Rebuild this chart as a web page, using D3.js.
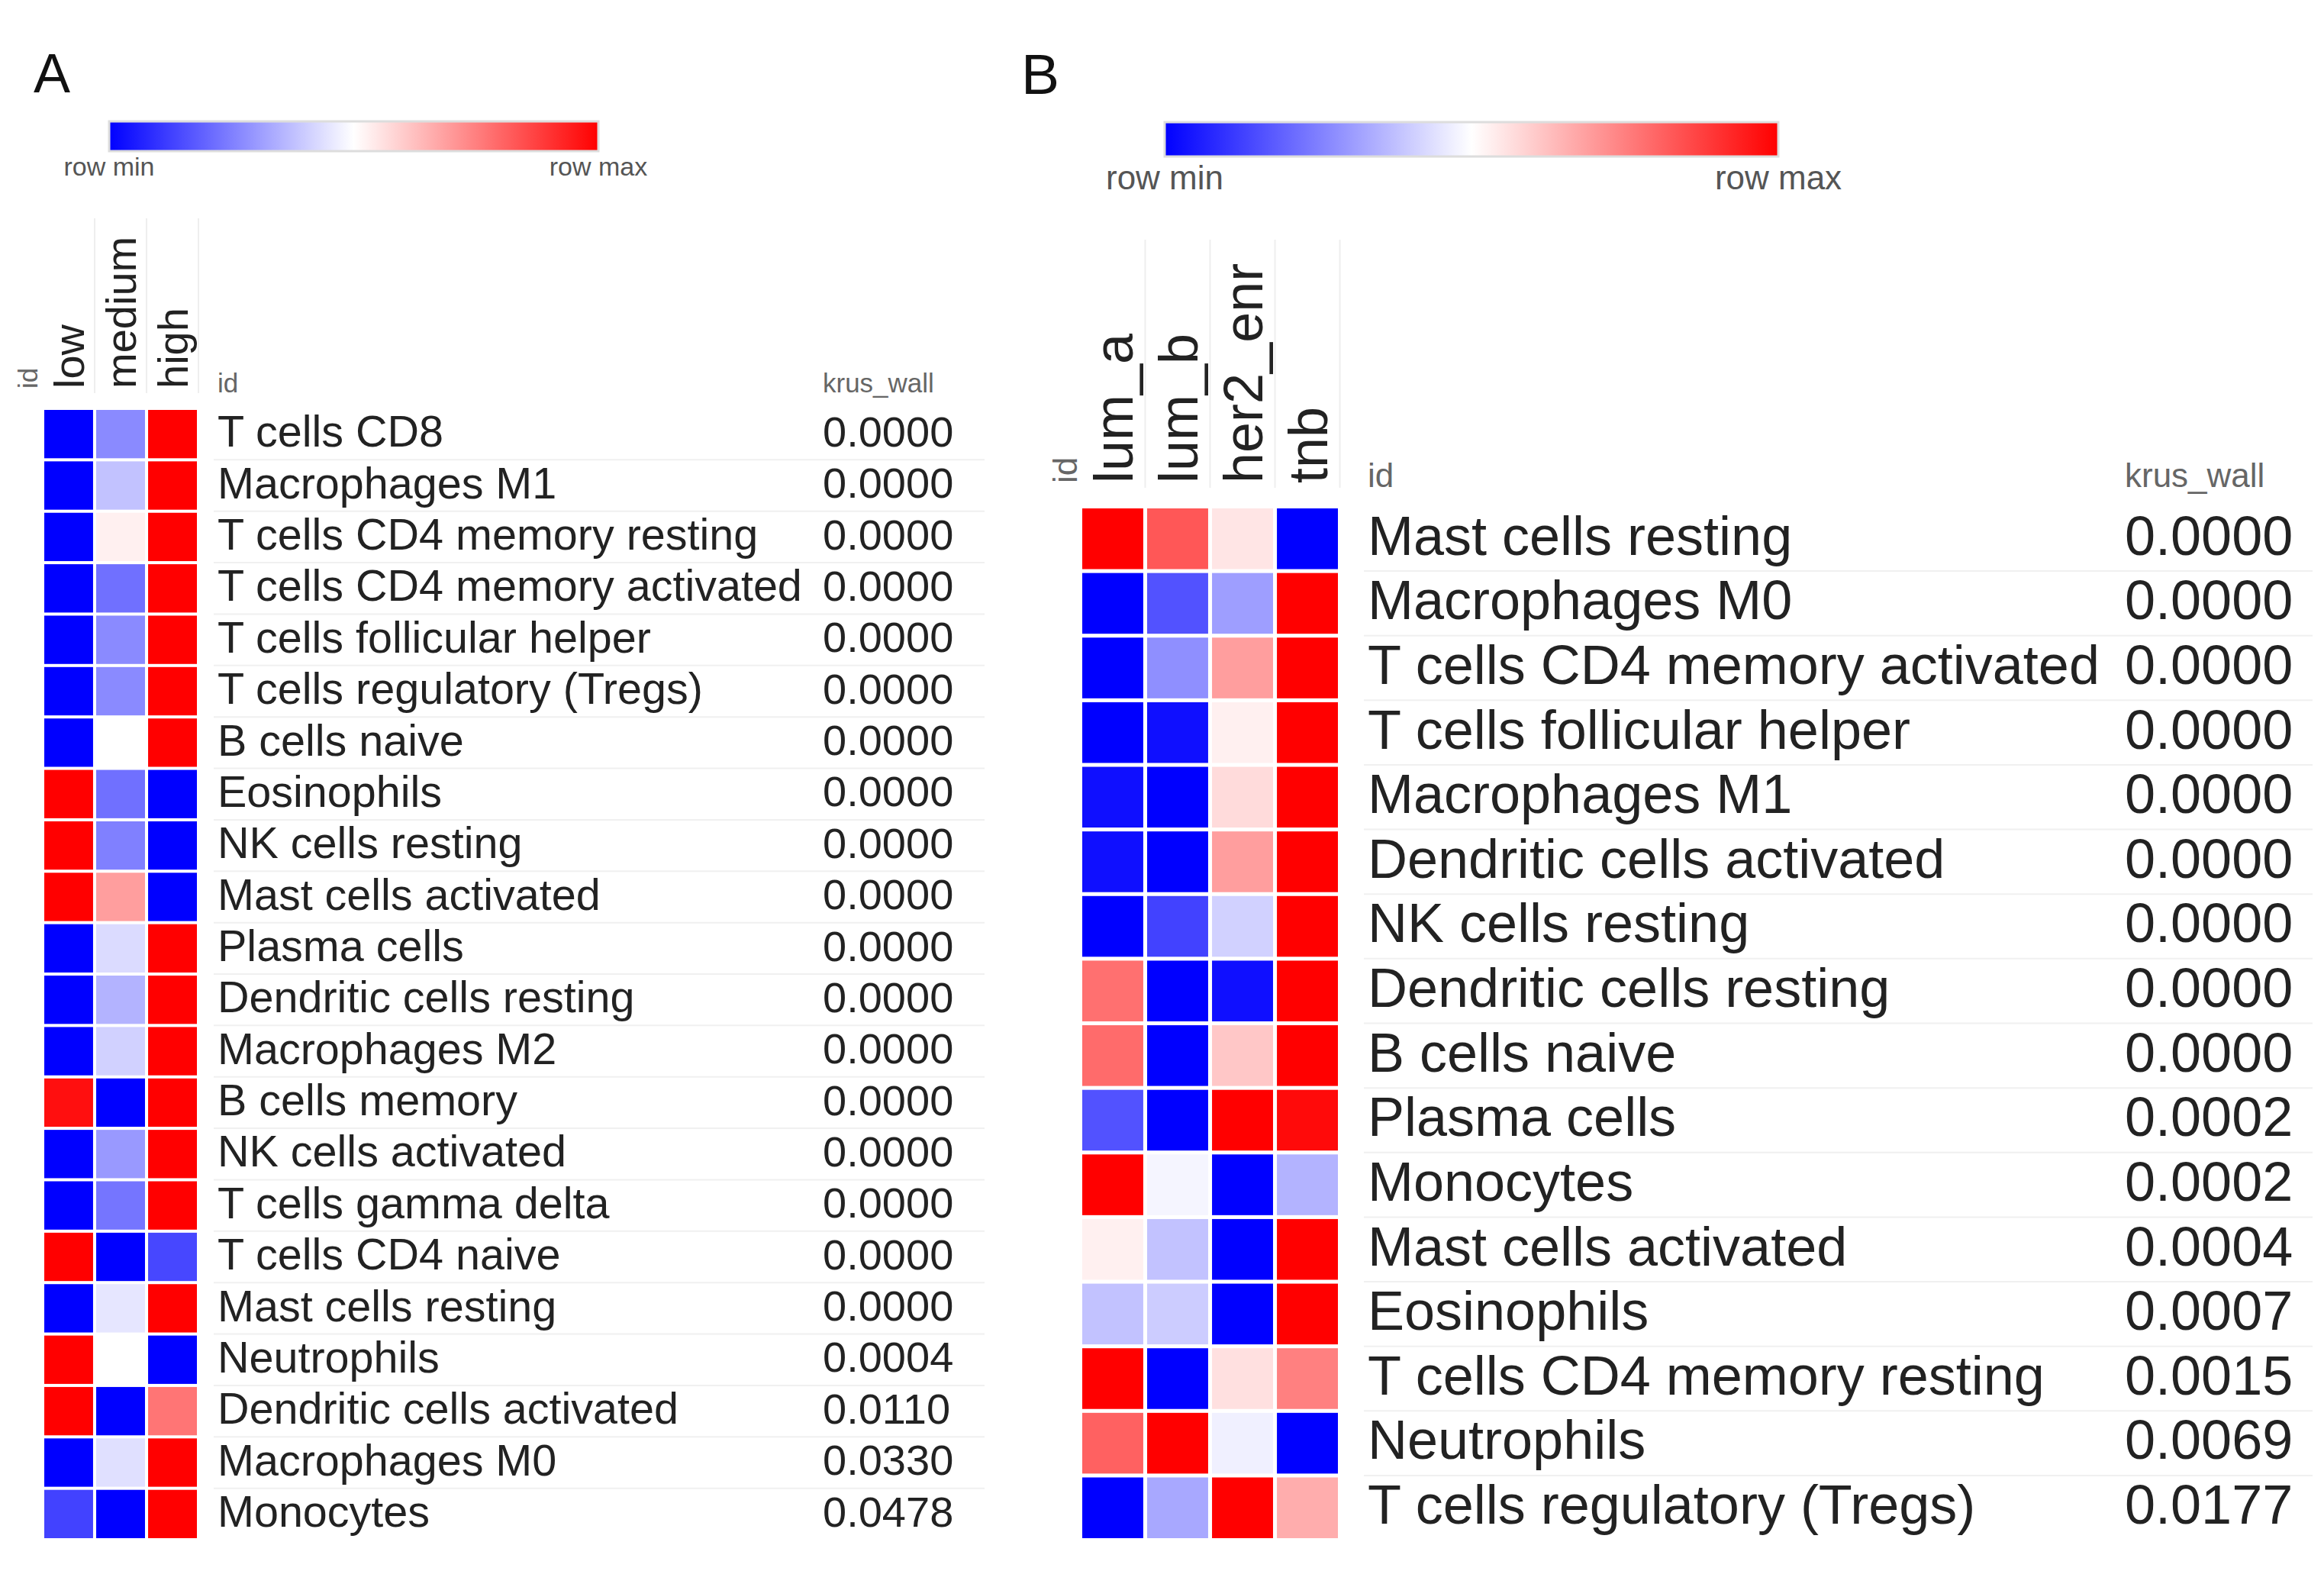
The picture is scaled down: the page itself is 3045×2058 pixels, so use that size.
<!DOCTYPE html>
<html>
<head>
<meta charset="utf-8">
<script src="https://cdn.jsdelivr.net/npm/d3@7"></script>
<style>
  html, body { margin: 0; padding: 0; background: #fff; }
  svg { display: block; }
  text { font-family: "Liberation Sans", Arial, Helvetica, sans-serif; }
</style>
</head>
<body>
<svg id="chart" width="3045" height="2058"></svg>
<script>
// panel A: by immune score group
var colsA = ["low", "medium", "high"];
var rowsA = ["T cells CD8", "Macrophages M1", "T cells CD4 memory resting", "T cells CD4 memory activated",
  "T cells follicular helper", "T cells regulatory (Tregs)", "B cells naive", "Eosinophils", "NK cells resting",
  "Mast cells activated", "Plasma cells", "Dendritic cells resting", "Macrophages M2", "B cells memory",
  "NK cells activated", "T cells gamma delta", "T cells CD4 naive", "Mast cells resting", "Neutrophils",
  "Dendritic cells activated", "Macrophages M0", "Monocytes"];
// row-scaled values, 0 = row min, 1 = row max
var valuesA = [
  [0, 0.27, 1], [0, 0.38, 1], [0, 0.53, 1], [0, 0.22, 1], [0, 0.27, 1], [0, 0.27, 1], [0, 0.5, 1],
  [1, 0.22, 0], [1, 0.25, 0], [1, 0.69, 0], [0, 0.43, 1], [0, 0.35, 1], [0, 0.41, 1], [0.97, 0, 1],
  [0, 0.3, 1], [0, 0.23, 1], [1, 0, 0.14], [0, 0.45, 1], [1, 0.5, 0], [1, 0, 0.77], [0, 0.44, 1],
  [0.13, 0, 1]
];
var pvalA = ["0.0000", "0.0000", "0.0000", "0.0000", "0.0000", "0.0000", "0.0000", "0.0000", "0.0000",
  "0.0000", "0.0000", "0.0000", "0.0000", "0.0000", "0.0000", "0.0000", "0.0000", "0.0000", "0.0004",
  "0.0110", "0.0330", "0.0478"];

// panel B: by PAM50 subtype
var colsB = ["lum_a", "lum_b", "her2_enr", "tnb"];
var rowsB = ["Mast cells resting", "Macrophages M0", "T cells CD4 memory activated", "T cells follicular helper",
  "Macrophages M1", "Dendritic cells activated", "NK cells resting", "Dendritic cells resting", "B cells naive",
  "Plasma cells", "Monocytes", "Mast cells activated", "Eosinophils", "T cells CD4 memory resting",
  "Neutrophils", "T cells regulatory (Tregs)"];
var valuesB = [
  [1, 0.83, 0.55, 0], [0, 0.16, 0.31, 1], [0, 0.28, 0.69, 1], [0, 0.03, 0.53, 1],
  [0.03, 0, 0.57, 1], [0.03, 0, 0.69, 1], [0, 0.13, 0.41, 1], [0.78, 0, 0.03, 1],
  [0.79, 0, 0.61, 1], [0.16, 0, 1, 0.98], [1, 0.48, 0, 0.35], [0.53, 0.38, 0, 1],
  [0.38, 0.4, 0, 1], [1, 0, 0.56, 0.75], [0.81, 1, 0.47, 0], [0, 0.33, 1, 0.66]
];
var pvalB = ["0.0000", "0.0000", "0.0000", "0.0000", "0.0000", "0.0000", "0.0000", "0.0000", "0.0000",
  "0.0002", "0.0002", "0.0004", "0.0007", "0.0015", "0.0069", "0.0177"];

var svg = d3.select("#chart");
var color = d3.scaleLinear().domain([0, 0.5, 1]).range(["#0000ff", "#ffffff", "#ff0000"]);

var defs = svg.append("defs");
var grad = defs.append("linearGradient").attr("id", "rowgrad");
grad.selectAll("stop").data([0, 0.5, 1]).enter().append("stop")
  .attr("offset", function(d) { return d * 100 + "%"; })
  .attr("stop-color", function(d) { return color(d); });

function panel(o) {
  var g = svg.append("g");

  g.append("text").attr("x", o.letterX).attr("y", o.letterY)
    .attr("font-size", o.letterSize).attr("fill", "#111").text(o.letter);

  // colour key
  g.append("rect").attr("x", o.bar[0]).attr("y", o.bar[2])
    .attr("width", o.bar[1] - o.bar[0]).attr("height", o.bar[3])
    .attr("fill", "url(#rowgrad)").attr("stroke", "#ddd").attr("stroke-width", 3);
  g.selectAll(".keylab").data([["row min", o.bar[0]], ["row max", o.bar[1]]]).enter().append("text")
    .attr("x", function(d) { return d[1]; }).attr("y", o.keyY)
    .attr("text-anchor", "middle").attr("font-size", o.keySize).attr("fill", "#555")
    .text(function(d) { return d[0]; });

  var x = d3.scaleBand().domain(o.cols).range(o.xr).paddingInner(o.pad);
  var y = d3.scaleBand().domain(o.rows).range(o.yr).paddingInner(o.pad);

  // header separators
  g.selectAll(".sep").data(o.cols).enter().append("line")
    .attr("x1", function(d) { return x(d) + x.bandwidth() + x.step() * o.pad / 2; })
    .attr("x2", function(d) { return x(d) + x.bandwidth() + x.step() * o.pad / 2; })
    .attr("y1", o.sepTop).attr("y2", o.headY + 6)
    .attr("stroke", "#eeeeee").attr("stroke-width", 2);

  g.selectAll(".colhead").data(o.cols).enter().append("text")
    .attr("transform", function(d) {
      return "translate(" + (x(d) + x.bandwidth() / 2) + "," + o.headY + ") rotate(-90)";
    })
    .attr("dy", "0.36em").attr("font-size", o.headSize).attr("fill", "#222")
    .text(function(d) { return d; });

  g.append("text")
    .attr("transform", "translate(" + o.idLeftX + "," + o.headY + ") rotate(-90)")
    .attr("dy", "0.36em").attr("font-size", o.smallSize).attr("fill", "#666").text("id");
  g.append("text").attr("x", o.labX).attr("y", o.headY + 5)
    .attr("font-size", o.smallSize).attr("fill", "#666").text("id");
  g.append("text").attr("x", o.valX).attr("y", o.headY + 5)
    .attr("font-size", o.smallSize).attr("fill", "#666").text("krus_wall");

  // faint row rules in the text columns
  g.selectAll(".rule").data(o.rows.slice(0, -1)).enter().append("line")
    .attr("x1", o.labX - 5).attr("x2", o.ruleEnd)
    .attr("y1", function(d) { return y(d) + y.bandwidth() + y.step() * o.pad / 2; })
    .attr("y2", function(d) { return y(d) + y.bandwidth() + y.step() * o.pad / 2; })
    .attr("stroke", "#f0f0f0").attr("stroke-width", 2);

  var cells = [];
  o.rows.forEach(function(r, i) {
    o.cols.forEach(function(c, j) { cells.push({row: r, col: c, v: o.values[i][j]}); });
  });
  g.selectAll(".cell").data(cells).enter().append("rect")
    .attr("x", function(d) { return x(d.col); })
    .attr("y", function(d) { return y(d.row); })
    .attr("width", x.bandwidth()).attr("height", y.bandwidth())
    .attr("fill", function(d) { return color(d.v); });

  g.selectAll(".rowlab").data(o.rows).enter().append("text")
    .attr("x", o.labX).attr("y", function(d) { return y(d) + y.bandwidth() / 2; })
    .attr("dy", "0.29em").attr("font-size", o.labSize).attr("fill", "#222")
    .text(function(d) { return d; });

  g.selectAll(".pval").data(o.rows).enter().append("text")
    .attr("x", o.valX).attr("y", function(d) { return y(d) + y.bandwidth() / 2; })
    .attr("dy", "0.29em").attr("font-size", o.valSize).attr("fill", "#222")
    .text(function(d, i) { return o.pvals[i]; });
}

panel({
  letter: "A", letterX: 44, letterY: 121, letterSize: 72,
  bar: [143, 784, 159, 39], keyY: 230, keySize: 34,
  cols: colsA, rows: rowsA, values: valuesA, pvals: pvalA,
  xr: [58, 258], yr: [537, 2015], pad: 0.06,
  headY: 509, headSize: 56, sepTop: 286, idLeftX: 36, smallSize: 35,
  labX: 285, valX: 1078, labSize: 57.5, valSize: 56, ruleEnd: 1290
});

panel({
  letter: "B", letterX: 1338, letterY: 123, letterSize: 75,
  bar: [1526, 2330, 160, 45], keyY: 248, keySize: 44,
  cols: colsB, rows: rowsB, values: valuesB, pvals: pvalB,
  xr: [1418, 1753], yr: [666, 2015], pad: 0.06,
  headY: 633, headSize: 72, sepTop: 314, idLeftX: 1395, smallSize: 44,
  labX: 1792, valX: 2784, labSize: 72, valSize: 72, ruleEnd: 3030
});
</script>
</body>
</html>
